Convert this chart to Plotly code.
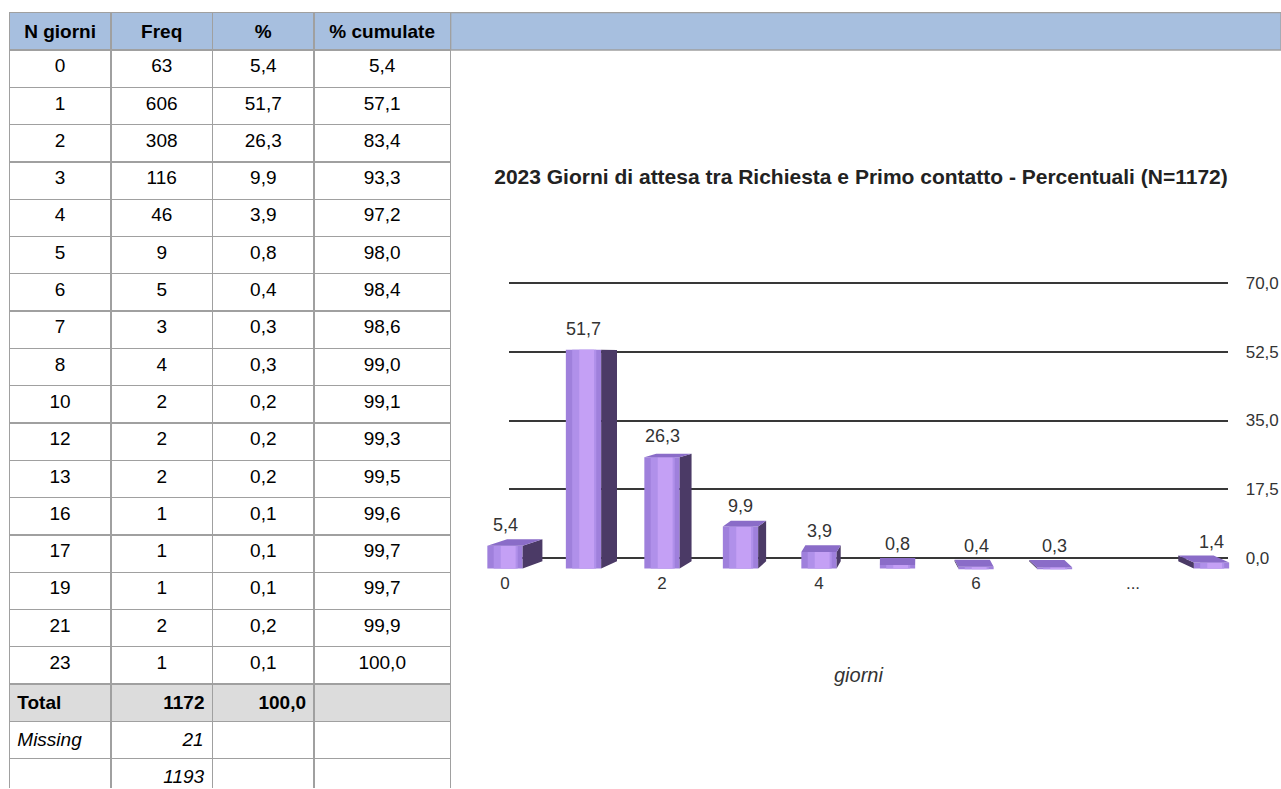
import plotly.graph_objects as go

# ---------------- table data ----------------
table_headers = ["N giorni", "Freq", "%", "% cumulate"]
n_giorni = ["0", "1", "2", "3", "4", "5", "6", "7", "8", "10", "12", "13", "16", "17", "19", "21", "23"]
freq = [63, 606, 308, 116, 46, 9, 5, 3, 4, 2, 2, 2, 1, 1, 1, 2, 1]
perc = [5.4, 51.7, 26.3, 9.9, 3.9, 0.8, 0.4, 0.3, 0.3, 0.2, 0.2, 0.2, 0.1, 0.1, 0.1, 0.2, 0.1]
perc_cum = [5.4, 57.1, 83.4, 93.3, 97.2, 98.0, 98.4, 98.6, 99.0, 99.1, 99.3, 99.5, 99.6, 99.7, 99.7, 99.9, 100.0]
total_label = "Total"
total_freq = 1172
total_perc = 100.0
missing_label = "Missing"
missing_freq = 21
grand_total = 1193

# ---------------- chart data ----------------
chart_title = "2023 Giorni di attesa tra Richiesta e Primo contatto - Percentuali (N=1172)"
chart_categories = ["0", "1", "2", "3", "4", "5", "6", "7", "...", "8+"]
chart_values = [5.4, 51.7, 26.3, 9.9, 3.9, 0.8, 0.4, 0.3, None, 1.4]
x_tick_labels = ["0", "2", "4", "6", "..."]
y_tick_values = [0, 17.5, 35, 52.5, 70]
x_axis_title = "giorni"

# ---------------- layout constants (pixels) ----------------
W, H = 1281, 789
FONT = "Liberation Sans, Arial, sans-serif"
LINE = dict(color="#a0a0a0", width=1.3)
HEAD_BLUE = "#a7bfdf"
TOTAL_GREY = "#dcdcdc"


def fmt(v):
    return f"{v:.1f}".replace(".", ",")


def px_x(p):
    return p / W


def px_y(p):
    return 1 - p / H


# ---------------- table ----------------
tbl_left, tbl_right, tbl_top = 9.3, 450.7, 12.7
row_h = 37.3
colw = [101.7, 101.7, 101.6, 136.4]
n = len(n_giorni)
tableA_bottom = tbl_top + row_h * (n + 1)
tail_h = (H - tableA_bottom - row_h) / 2 - 0.3

tableA = go.Table(
    domain=dict(x=[px_x(tbl_left), px_x(tbl_right)],
                y=[px_y(tableA_bottom + 0.6), px_y(tbl_top)]),
    columnwidth=colw,
    header=dict(values=[f"<b>{h}</b>" for h in table_headers], fill_color=HEAD_BLUE,
                line=LINE, align="center", height=row_h,
                font=dict(family=FONT, size=19, color="black")),
    cells=dict(values=[n_giorni, [str(f) for f in freq], [fmt(p) for p in perc],
                       [fmt(p) for p in perc_cum]],
               fill_color="white", line=LINE, align="center", height=row_h,
               font=dict(family=FONT, size=19, color="black")),
)

tableB = go.Table(
    domain=dict(x=[px_x(tbl_left), px_x(tbl_right)], y=[0, px_y(tableA_bottom)]),
    columnwidth=colw,
    header=dict(values=[f"<b>{total_label}</b>", f"<b>{total_freq}</b>",
                        f"<b>{fmt(total_perc)}</b>", ""],
                fill_color=TOTAL_GREY, line=LINE, align=["left", "right", "right", "center"],
                height=row_h, font=dict(family=FONT, size=19, color="black")),
    cells=dict(values=[[f"<i>{missing_label}</i>", ""], [f"<i>{missing_freq}</i>", f"<i>{grand_total}</i>"],
                       ["", ""], ["", ""]],
               fill_color="white", line=LINE, align=["left", "right", "center", "center"],
               height=tail_h, font=dict(family=FONT, size=19, color="black")),
)

fig = go.Figure()
fig.add_trace(tableA)
fig.add_trace(tableB)

# header band extending to the right edge
fig.add_shape(type="rect", xref="paper", yref="paper",
              x0=px_x(tbl_right), x1=1, y0=px_y(tbl_top + row_h), y1=px_y(tbl_top),
              fillcolor=HEAD_BLUE, line=LINE, layer="below")

# ---------------- chart geometry ----------------
wall_left, wall_right = 509.3, 1227.7
wall_zero_px, wall_ppu = 558.3, 3.937
wall_range = [-1, 71]
wall_bottom_px = wall_zero_px - wall_range[0] * wall_ppu
wall_top_px = wall_zero_px - wall_range[1] * wall_ppu

slot_px = 78.5
first_center_px = 505.0
bar_zero_px, bar_ppu = 568.5, 4.23
bar_range = [-0.5, 62]
x_range = [-0.5, len(chart_categories) - 0.5]
bars_left_px = first_center_px + x_range[0] * slot_px
bars_right_px = min(W, first_center_px + x_range[1] * slot_px)
bars_bottom_px = bar_zero_px - bar_range[0] * bar_ppu
bars_top_px = bar_zero_px - bar_range[1] * bar_ppu
x_range = [x_range[0], (bars_right_px - first_center_px) / slot_px]

# invisible helper so the back-wall subplot (gridlines + right scale) is drawn
fig.add_trace(go.Scatter(x=[0.5] * len(y_tick_values), y=y_tick_values, mode="markers",
                         marker=dict(opacity=0, size=1), xaxis="x", yaxis="y",
                         hoverinfo="skip", showlegend=False))

xs = list(range(len(chart_categories)))
bw = 0.45
vp = 5.03  # horizontal vanishing slot


def dx_of(i):
    return 0.05 * (vp - i)


def dy_of(v):
    return 6.5 * (50 - v) / 45 / bar_ppu


# front faces with a simple shading
shades = [(0.0, 1.0, "#9f80dc"), (0.18, 0.68, "#b090ea"), (0.38, 0.42, "#c4a0f5")]
for start, frac, color in shades:
    fig.add_trace(go.Bar(
        x=xs, y=chart_values, base=0,
        width=bw * frac, offset=-bw / 2 + bw * start,
        marker=dict(color=color, line=dict(width=0)),
        xaxis="x2", yaxis="y2", hoverinfo="skip", showlegend=False,
    ))

side_x, side_y, top_x, top_y = [], [], [], []
for i, v in zip(xs, chart_values):
    if v is None:
        continue
    dx = dx_of(i)
    dyt = dy_of(v)
    dyb = dy_of(0)
    xl, xr = i - bw / 2, i + bw / 2
    edge = xr if dx > 0 else xl
    side_x += [edge, edge, edge + dx, edge + dx, edge, None]
    side_y += [0, v, v + dyt, dyb, 0, None]
    top_x += [xl, xr, xr + dx, xl + dx, xl, None]
    top_y += [v, v, v + dyt, v + dyt, v, None]

fig.add_trace(go.Scatter(x=side_x, y=side_y, fill="toself", mode="lines",
                         line=dict(width=0, color="#4b3a66"), fillcolor="#4b3a66",
                         xaxis="x2", yaxis="y2", hoverinfo="skip", showlegend=False))
fig.add_trace(go.Scatter(x=top_x, y=top_y, fill="toself", mode="lines",
                         line=dict(width=0, color="#8a6cc8"), fillcolor="#8a6cc8",
                         xaxis="x2", yaxis="y2", hoverinfo="skip", showlegend=False))

# value labels
for i, v in zip(xs, chart_values):
    if v is None:
        continue
    fig.add_annotation(x=i, y=v, xref="x2", yref="y2", text=fmt(v), showarrow=False,
                       yshift=21, yanchor="middle",
                       font=dict(family=FONT, size=18, color="#333"))

tick_vals = [chart_categories.index(t) for t in x_tick_labels]

fig.update_layout(
    width=W, height=H,
    margin=dict(l=0, r=0, t=0, b=0, pad=0, autoexpand=False),
    paper_bgcolor="white", plot_bgcolor="rgba(0,0,0,0)",
    separators=",.",
    barmode="overlay",
    showlegend=False,
    font=dict(family=FONT, color="#333"),
    title=dict(text=f"<b>{chart_title}</b>", x=861 / W, y=px_y(177), xref="paper", yref="paper",
               xanchor="center", yanchor="middle", automargin=False,
               font=dict(family=FONT, size=21, color="#222")),
    xaxis=dict(domain=[px_x(wall_left), px_x(wall_right)], range=[0, 1], visible=False,
               anchor="y", automargin=False),
    yaxis=dict(domain=[px_y(wall_bottom_px), px_y(wall_top_px)], range=wall_range,
               anchor="x", side="right", tickvals=y_tick_values, tickformat=".1f",
               showgrid=True, gridcolor="#383838", gridwidth=2, zeroline=False,
               showline=False, ticks="", ticklabelstandoff=17, automargin=False,
               tickfont=dict(family=FONT, size=17, color="#333")),
    xaxis2=dict(domain=[px_x(bars_left_px), px_x(bars_right_px)], range=x_range,
                anchor="y2", tickvals=tick_vals, ticktext=x_tick_labels,
                showgrid=False, zeroline=False, showline=False, ticks="", automargin=False,
                tickfont=dict(family=FONT, size=17, color="#333")),
    yaxis2=dict(domain=[px_y(bars_bottom_px), px_y(bars_top_px)], range=bar_range,
                anchor="x2", visible=False, automargin=False),
)

fig.add_annotation(text=f"<i>{x_axis_title}</i>", xref="paper", yref="paper",
                   x=858 / W, y=px_y(675), showarrow=False, xanchor="center", yanchor="middle",
                   font=dict(family=FONT, size=20, color="#333"))

fig.write_html(
    "out.html", config={"displayModeBar": False},
    post_script=("document.documentElement.style.overflow='hidden';"
                 "document.body.style.overflow='hidden';"
                 "document.body.style.margin='0';"),
)
